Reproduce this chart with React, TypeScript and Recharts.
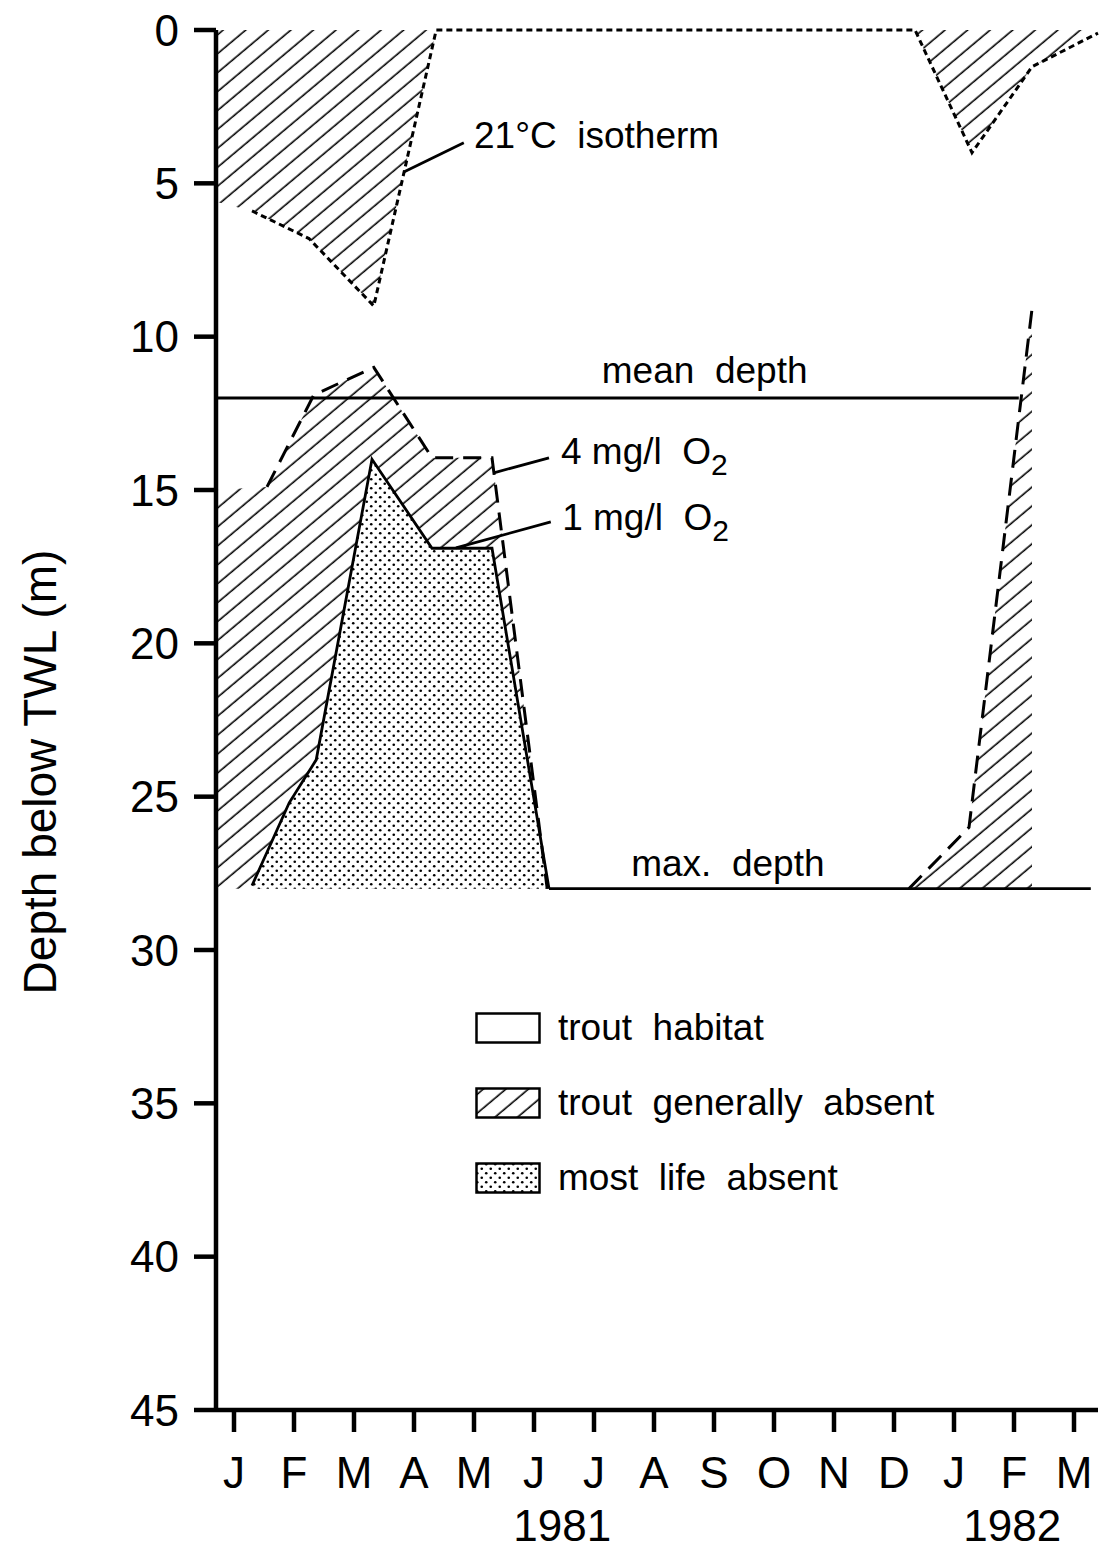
import React from 'react';
import {
  ComposedChart,
  Area,
  Line,
  XAxis,
  YAxis,
  ReferenceLine,
  ReferenceDot,
  Legend,
} from 'recharts';

const FONT = '"Liberation Sans", Arial, Helvetica, sans-serif';

const months = ['J', 'F', 'M', 'A', 'M', 'J', 'J', 'A', 'S', 'O', 'N', 'D', 'J', 'F', 'M'];
const monthTicks = months.map((_, i) => i);
const depthTicks = [0, 5, 10, 15, 20, 25, 30, 35, 40, 45];

const MEAN_DEPTH = 12.0;
const MAX_DEPTH = 28.0;

// x = months since Jan 1981, y = depth below TWL (m)
const isoMonth = [0.3, 1.25, 2.33, 3.37, 11.35, 12.3, 13.3, 14.4];
const isoDepth = [5.9, 6.8, 9.0, 0, 0, 4.0, 1.2, 0.1];

const ox4SpringMonth = [0.55, 1.33, 2.33, 3.3, 4.3, 5.22];
const ox4SpringDepth = [14.9, 11.9, 11.0, 13.95, 13.95, 28.0];
const ox4WinterMonth = [11.25, 12.25, 13.3];
const ox4WinterDepth = [28.0, 26.0, 9.1];

const ox1Month = [0.3, 0.92, 1.37, 2.3, 3.3, 4.3, 5.25];
const ox1Depth = [27.9, 25.2, 23.8, 14.0, 16.9, 16.9, 28.0];

// shading reaches the y axis before the measured curves start
const axisStart = -0.3;
const isoAtAxis = 5.6;
const ox4AtAxis = 15.0;

const meanSpan = [-0.3, 13.08];
const maxSpan = [5.25, 14.28];

const notes = [
  { m: 4.0, d: 3.85, text: '21°C  isotherm', sub: '' },
  { m: 6.13, d: 11.5, text: 'mean  depth', sub: '' },
  { m: 5.45, d: 14.15, text: '4 mg/l  O', sub: '2' },
  { m: 5.47, d: 16.3, text: '1 mg/l  O', sub: '2' },
  { m: 6.62, d: 27.58, text: 'max.  depth', sub: '' },
];

const leaders = [
  [[2.83, 4.63], [3.83, 3.68]],
  [[4.33, 14.44], [5.25, 13.95]],
  [[3.7, 16.89], [5.28, 16.04]],
];

const years = [
  { m: 5.47, label: '1981' },
  { m: 12.97, label: '1982' },
];

const legendLabels = ['trout  habitat', 'trout  generally  absent', 'most  life  absent'];
const legendFills = ['#fff', 'url(#hatch)', 'url(#dots)'];

const series = (key: string, xs: number[], ys: number[], f = (y: number): any => y) =>
  xs.map((m, i) => ({ m, [key]: f(ys[i]) }));

const rows = [
  ...series('isoFill', [axisStart, ...isoMonth], [isoAtAxis, ...isoDepth], (d) => [0, d]),
  ...series('ox4FillA', [axisStart, ...ox4SpringMonth], [ox4AtAxis, ...ox4SpringDepth], (d) => [d, MAX_DEPTH]),
  ...series('ox4FillB', ox4WinterMonth, ox4WinterDepth, (d) => [d, MAX_DEPTH]),
  ...series('ox1Fill', ox1Month, ox1Depth, (d) => [d, MAX_DEPTH]),
  ...series('iso', isoMonth, isoDepth),
  ...series('ox4A', ox4SpringMonth, ox4SpringDepth),
  ...series('ox4B', ox4WinterMonth, ox4WinterDepth),
  ...series('ox1', ox1Month, ox1Depth),
  ...series('mean', meanSpan, [MEAN_DEPTH, MEAN_DEPTH]),
  ...series('max', maxSpan, [MAX_DEPTH, MAX_DEPTH]),
];

const renderLegend = () => (
  <div style={{ fontFamily: FONT, fontSize: 37, color: '#000' }}>
    {legendLabels.map((label, i) => (
      <div key={label} style={{ display: 'flex', alignItems: 'center', height: 75 }}>
        <svg width={66} height={32} style={{ marginRight: 17 }}>
          <rect x={1.5} y={1.5} width={63} height={29} fill={legendFills[i]} stroke="#000" strokeWidth={2.5} />
        </svg>
        <span style={{ whiteSpace: 'pre' }}>{label}</span>
      </div>
    ))}
  </div>
);

const noteLabel = (text: string, sub: string) => (props: any) => {
  const { x, y } = props.viewBox;
  return (
    <text x={x} y={y} fontSize={37} fontFamily={FONT} fill="#000" style={{ whiteSpace: 'pre' }}>
      {text}
      {sub && (
        <tspan dy={11} fontSize={30}>
          {sub}
        </tspan>
      )}
    </text>
  );
};

const yearLabel = (label: string) => (props: any) => {
  const { x, y } = props.viewBox;
  return (
    <text x={x} y={y + 131} fontSize={44} fontFamily={FONT} fill="#000" textAnchor="middle">
      {label}
    </text>
  );
};

export default function App() {
  const line = { stroke: '#000', dot: false, connectNulls: true, isAnimationActive: false, type: 'linear' as const };
  const fill = { stroke: 'none', connectNulls: true, isAnimationActive: false, type: 'linear' as const, fillOpacity: 1 };

  return (
    <div>
      <style>{'body{margin:0}'}</style>
      <ComposedChart width={1102} height={1556} data={rows} margin={{ top: 30, right: 4, bottom: 0, left: 0 }}>
        <defs>
          <pattern id="hatch" patternUnits="userSpaceOnUse" width={10} height={14.5} patternTransform="rotate(-40)">
            <line x1={0} y1={7} x2={10} y2={7} stroke="#000" strokeWidth={1.6} />
          </pattern>
          <pattern id="dots" patternUnits="userSpaceOnUse" width={9} height={9}>
            <rect width={9} height={9} fill="#fff" />
            <circle cx={2.25} cy={2.25} r={1.3} fill="#000" />
            <circle cx={6.75} cy={6.75} r={1.3} fill="#000" />
          </pattern>
        </defs>

        <XAxis
          type="number"
          dataKey="m"
          domain={[-0.3, 14.4]}
          ticks={monthTicks}
          interval={0}
          tickFormatter={(v: number) => months[v]}
          height={146}
          axisLine={{ stroke: '#000', strokeWidth: 4.5 }}
          tickLine={{ stroke: '#000', strokeWidth: 4.5 }}
          tickSize={22}
          tickMargin={25}
          tick={{ fill: '#000', fontSize: 44, fontFamily: FONT }}
        />
        <YAxis
          type="number"
          domain={[0, 45]}
          reversed
          ticks={depthTicks}
          interval={0}
          width={216}
          axisLine={{ stroke: '#000', strokeWidth: 4.5 }}
          tickLine={{ stroke: '#000', strokeWidth: 4.5 }}
          tickSize={22}
          tickMargin={15}
          tick={{ fill: '#000', fontSize: 44, fontFamily: FONT }}
          label={{
            value: 'Depth below TWL (m)',
            angle: -90,
            position: 'center',
            dx: -68,
            dy: 52,
            style: { fill: '#000', fontSize: 46, fontFamily: FONT },
          }}
        />

        <Area dataKey="isoFill" fill="url(#hatch)" {...fill} />
        <Area dataKey="ox4FillA" fill="url(#hatch)" {...fill} />
        <Area dataKey="ox4FillB" fill="url(#hatch)" {...fill} />
        <Area dataKey="ox1Fill" fill="url(#dots)" {...fill} />

        <Line dataKey="iso" strokeWidth={3} strokeDasharray="6 4" {...line} />
        <Line dataKey="ox4A" strokeWidth={3} strokeDasharray="18 10" {...line} />
        <Line dataKey="ox4B" strokeWidth={3} strokeDasharray="18 10" {...line} />
        <Line dataKey="ox1" strokeWidth={2.8} {...line} />
        <Line dataKey="mean" strokeWidth={2.8} {...line} />
        <Line dataKey="max" strokeWidth={2.8} {...line} />

        {leaders.map(([a, b], i) => (
          <ReferenceLine
            key={`leader-${i}`}
            segment={[{ x: a[0], y: a[1] }, { x: b[0], y: b[1] }]}
            stroke="#000"
            strokeWidth={2.8}
            ifOverflow="visible"
          />
        ))}
        {notes.map((n) => (
          <ReferenceDot
            key={n.text}
            x={n.m}
            y={n.d}
            r={0}
            fill="none"
            stroke="none"
            ifOverflow="visible"
            label={noteLabel(n.text, n.sub)}
          />
        ))}
        {years.map((yr) => (
          <ReferenceDot
            key={yr.label}
            x={yr.m}
            y={45}
            r={0}
            fill="none"
            stroke="none"
            ifOverflow="visible"
            label={yearLabel(yr.label)}
          />
        ))}

        <Legend
          layout="horizontal"
          align="center"
          verticalAlign="middle"
          content={renderLegend}
          wrapperStyle={{ position: 'absolute', left: 475, top: 990, width: 'auto', height: 'auto' }}
        />
      </ComposedChart>
    </div>
  );
}
